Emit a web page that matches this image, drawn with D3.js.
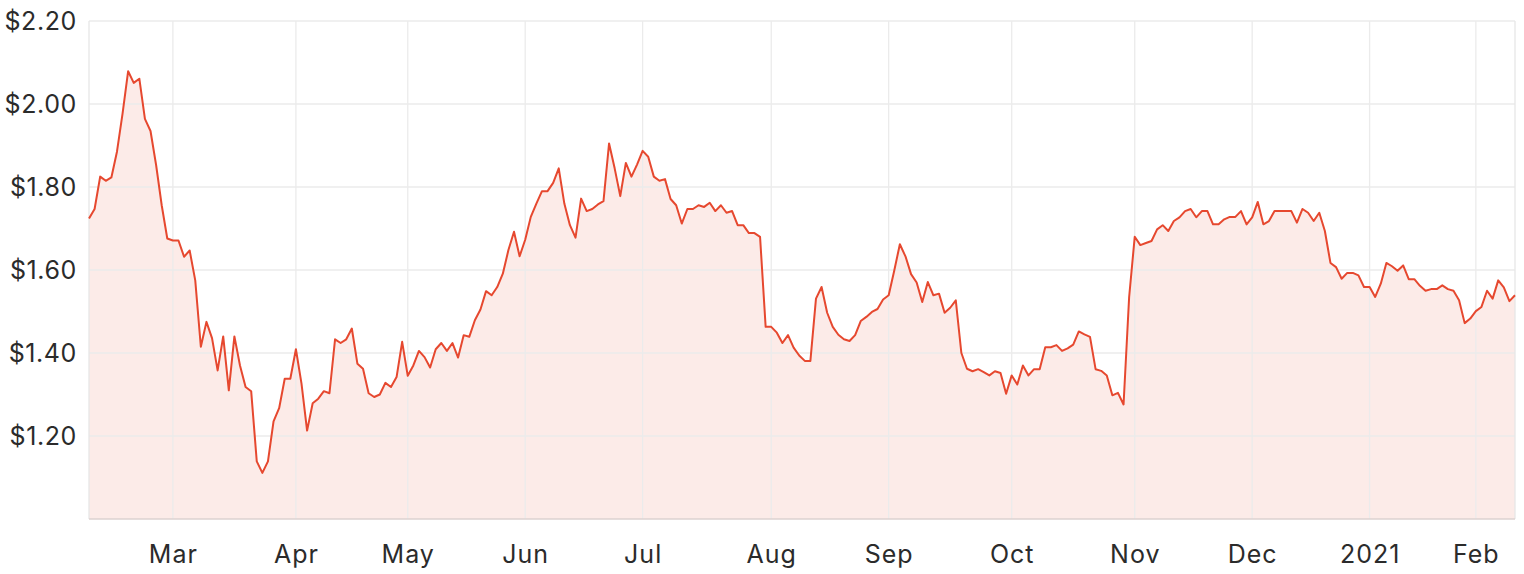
<!DOCTYPE html>
<html><head><meta charset="utf-8">
<script src="https://cdn.jsdelivr.net/npm/d3@7"></script>
<style>
html,body{margin:0;padding:0;background:#fff;}
svg{display:block;font-family:Inter,"Open Sans",sans-serif;}
</style>
</head><body>
<svg id="chart" width="1524" height="574"></svg>
<script>
// Daily closing prices (one per trading day, Feb 2020 – Feb 2021)
const prices = [
1.724,1.747,1.825,1.815,1.823,1.885,1.977,2.079,2.051,2.061,
1.964,1.935,1.853,1.756,1.676,1.671,1.671,1.632,1.647,1.575,
1.415,1.475,1.436,1.358,1.440,1.310,1.440,1.370,1.318,1.308,
1.139,1.111,1.139,1.235,1.267,1.338,1.338,1.409,1.326,1.213,
1.279,1.290,1.308,1.303,1.433,1.424,1.433,1.459,1.374,1.362,
1.303,1.294,1.300,1.328,1.318,1.342,1.427,1.345,1.370,1.405,
1.390,1.365,1.409,1.424,1.405,1.424,1.389,1.443,1.439,1.479,
1.505,1.549,1.539,1.559,1.591,1.648,1.692,1.633,1.673,1.728,
1.760,1.790,1.790,1.810,1.845,1.760,1.708,1.678,1.772,1.742,
1.747,1.758,1.766,1.905,1.845,1.778,1.858,1.825,1.854,1.887,
1.873,1.825,1.815,1.819,1.771,1.756,1.712,1.747,1.747,1.756,
1.752,1.762,1.742,1.756,1.738,1.742,1.708,1.708,1.689,1.689,
1.680,1.463,1.463,1.449,1.424,1.443,1.413,1.394,1.381,1.381,
1.531,1.559,1.497,1.463,1.444,1.433,1.429,1.443,1.477,1.487,
1.499,1.506,1.529,1.539,1.599,1.662,1.633,1.590,1.570,1.523,
1.571,1.539,1.543,1.497,1.509,1.527,1.400,1.362,1.356,1.361,
1.354,1.346,1.356,1.352,1.302,1.346,1.324,1.370,1.346,1.361,
1.361,1.414,1.414,1.419,1.405,1.411,1.420,1.452,1.445,1.439,
1.361,1.357,1.346,1.298,1.304,1.276,1.535,1.680,1.660,1.665,
1.670,1.698,1.708,1.694,1.718,1.727,1.742,1.747,1.727,1.742,
1.742,1.710,1.710,1.722,1.728,1.728,1.742,1.710,1.727,1.764,
1.710,1.718,1.742,1.742,1.742,1.742,1.714,1.747,1.738,1.718,
1.738,1.694,1.617,1.607,1.579,1.593,1.593,1.587,1.559,1.559,
1.535,1.567,1.617,1.609,1.598,1.611,1.578,1.578,1.562,1.550,
1.554,1.554,1.563,1.554,1.550,1.527,1.472,1.483,1.501,1.511,
1.550,1.531,1.575,1.558,1.525,1.539
];
// x-axis tick labels and the trading-day index where each month starts
const monthLabels = ["Mar","Apr","May","Jun","Jul","Aug","Sep","Oct","Nov","Dec","2021","Feb"];
const monthStartIndex = [15,37,57,78,99,122,143,165,187,208,229,248];
// y-axis tick values
const yTickValues = [1.2,1.4,1.6,1.8,2.0,2.2];
const yDomain = [1.0, 2.2];

const W = 1524, H = 574;
const margin = {left: 89, right: 9, top: 21, bottom: 55};
const svg = d3.select("#chart");

const x = d3.scaleLinear().domain([0, prices.length - 1]).range([margin.left, W - margin.right]);
const y = d3.scaleLinear().domain(yDomain).range([H - margin.bottom, margin.top]);

// area fill
const area = d3.area().x((d,i)=>x(i)).y0(y(yDomain[0])).y1(d=>y(d));
svg.append("path").datum(prices).attr("d", area)
  .attr("fill", "rgba(232,73,47,0.11)");

// gridlines
const grid = svg.append("g");
grid.selectAll("line.h").data(yTickValues).join("line")
  .attr("x1", x(0)).attr("x2", x(prices.length-1))
  .attr("y1", d=>y(d)).attr("y2", d=>y(d))
  .attr("stroke", "#ebebeb").attr("stroke-width", 1.3);
grid.selectAll("line.v").data(monthStartIndex).join("line")
  .attr("x1", d=>x(d)).attr("x2", d=>x(d))
  .attr("y1", y(yDomain[1])).attr("y2", y(yDomain[0]))
  .attr("stroke", "#ebebeb").attr("stroke-width", 1.3);
// plot borders left/right
[0, prices.length-1].forEach(i=>{
  grid.append("line").attr("x1", x(i)).attr("x2", x(i))
    .attr("y1", y(yDomain[1])).attr("y2", y(yDomain[0]))
    .attr("stroke", "#e6e6e6").attr("stroke-width", 1.3);
});
// bottom axis line
grid.append("line").attr("x1", x(0)).attr("x2", x(prices.length-1))
  .attr("y1", y(yDomain[0])).attr("y2", y(yDomain[0]))
  .attr("stroke", "#dcd2d0").attr("stroke-width", 1.5);

// price line
const line = d3.line().x((d,i)=>x(i)).y(d=>y(d));
svg.append("path").datum(prices).attr("d", line)
  .attr("fill", "none").attr("stroke", "#e6482f").attr("stroke-width", 2)
  .attr("stroke-linejoin", "round");

// y-axis labels
const yAxis = d3.axisLeft(y).tickValues(yTickValues).tickFormat(d3.format("$.2f")).tickSize(0).tickPadding(12);
const gy = svg.append("g").attr("transform", `translate(${margin.left},0)`).call(yAxis);
gy.select(".domain").remove();
gy.selectAll("text").attr("font-size", 25).attr("fill", "#2b2b2b")
  .attr("letter-spacing", "0.6px")
  .attr("font-family", "Inter, 'Open Sans', sans-serif");

// x-axis labels
const xAxis = d3.axisBottom(x).tickValues(monthStartIndex)
  .tickFormat((d,i)=>monthLabels[i]).tickSize(0);
const gx = svg.append("g").attr("transform", `translate(0,${y(yDomain[0])})`).call(xAxis);
gx.select(".domain").remove();
gx.selectAll("text").attr("font-size", 25).attr("fill", "#2b2b2b")
  .attr("letter-spacing", "1px")
  .attr("y", 43.5).attr("dy", 0)
  .attr("font-family", "Inter, 'Open Sans', sans-serif");
</script>
</body></html>
